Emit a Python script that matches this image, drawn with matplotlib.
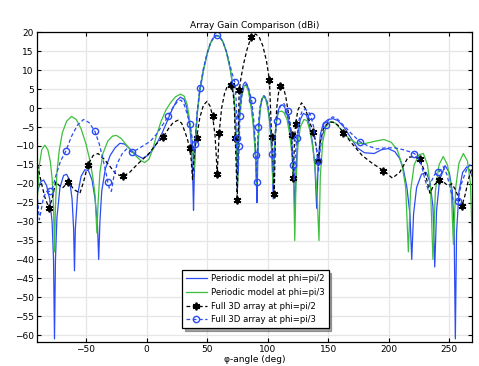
import matplotlib
matplotlib.use("Agg")
import matplotlib.pyplot as plt
import numpy as np

# ---------------- data ----------------
# Periodic model at phi=pi/2 (blue solid)
B_x = [-90, -87.5, -85, -82.5, -80, -78, -76.8, -76, -75.2, -74, -71.5, -68.5, -66, -63.5, -61.5, -60.2, -59.5,
       -58.8, -57, -54, -51, -48, -45, -42.5, -40.5, -39.5, -38.5, -37, -34, -30, -26, -22, -18, -13, -8, -3, 1,
       5, 9, 13, 17, 21, 25, 28, 31, 33, 35, 36.5, 37.5, 38.3, 38.8, 39.4, 40.5, 42, 44, 47, 50, 53, 56, 58, 60,
       63, 66, 69, 71, 72.5, 73.5, 74.3, 75, 75.7, 76.5, 78, 80, 81.5, 83, 85, 87, 88.5, 89.8, 90.6, 91.2, 91.8,
       92.8, 94, 95.5, 97, 98.5, 100, 101.5, 102.8, 103.8, 104.6, 105.4, 106.5, 108, 110, 112, 114, 116, 118, 120,
       121.5, 122.5, 123.5, 125, 127, 129.5, 132, 134.5, 137, 139, 140.5, 141.8, 143.5, 146, 150, 154, 158, 163,
       168, 174, 180, 188, 194, 199.5, 205, 209, 212, 215, 217.5, 219, 220.5, 223, 227, 231, 234, 236.5, 238,
       239.5, 242, 246.5, 250, 252.5, 254, 255, 256, 258, 261, 264.5, 267, 270]
B_y = [-22, -19.5, -19, -20.5, -24, -30, -40, -61, -40, -29, -21, -17.8, -17.5, -19, -24, -32, -43,
       -32, -23, -18, -16.3, -16.5, -19, -24, -31, -40, -30, -22, -16, -12.5, -10.5, -9.3, -9.5, -11, -12.5, -13.3, -12.5,
       -11, -9, -6.5, -3.5, -0.5, 2, 2.9, 2.3, 0.5, -3, -7.5, -13, -20, -27, -18, -8, -1, 4.5, 10, 14.3, 17.3, 18.9, 19.2, 19,
       17.6, 14.8, 10.5, 6.5, 2, -4, -12, -22, -10, -2, 3.5, 6.3, 6.9, 6.3, 3.8, -0.5, -5, -11, -18, -25, -15,
       -5, 0, 2.5, 3.1, 2.5, 0.5, -3, -8, -15, -24, -14, -6, -1.5, 0.5, 0.9, 0.3, -1.5, -5, -10,
       -17, -28, -16, -7, -3, -1.4, -1.8, -4.5, -9, -15, -26.5, -14, -7, -4, -3, -2.8, -3.3, -5,
       -7.5, -10.5, -11.8, -12, -11, -10.7, -11.5, -13.3, -16, -21, -28, -40, -28, -21, -17.5, -17, -19.5, -26, -42,
       -27, -19, -15.2, -17, -22, -32, -61, -33, -22, -17, -15.5, -16.5, -19]

# Periodic model at phi=pi/3 (green solid)
G_x = [-90, -88.5, -86.5, -84, -81.5, -79.5, -78, -76.8, -76, -75.2, -74, -72, -69.5, -66, -62, -58, -54, -50,
       -47, -44.5, -42.5, -41, -40, -38.5, -36, -32, -28, -25, -21, -16, -10, -5, -1.5, 2, 5, 8, 12, 16, 20, 24,
       28, 31, 33.5, 35.5, 37.5, 39.3, 40.5, 42, 44, 47, 50, 53, 56, 58, 60, 63, 66, 69, 71, 72.5, 73.5, 74.5,
       75.3, 76, 77, 78.5, 80.5, 82, 84, 86, 88, 89.8, 90.8, 91.6, 93, 94.5, 96.5, 98.5, 100.5, 102, 103.5, 104.4,
       105.3, 107, 109, 111.5, 113.5, 116, 118, 120, 121.5, 122.4, 123.4, 125, 127, 130, 132.5, 135, 137.5, 139.5,
       141, 142.4, 143.5, 145.5, 148, 152, 156, 161, 167, 173, 180, 188, 196, 202, 207, 211, 214, 216.2, 218,
       221, 225, 228.6, 232, 234.5, 236.5, 238.5, 241.5, 245, 248.5, 251.5, 253.4, 255.3, 258, 261.6, 265, 267.5,
       269, 270]
G_y = [-23, -15, -11, -9.8, -11, -14, -18.5, -26, -38, -26, -17, -11, -6.5, -3.5, -2.2, -3, -5.5, -9.5,
       -13.5, -18, -23, -33, -25, -17, -12, -8.7, -7.4, -7.2, -8, -10, -12.3, -13.8, -14.4, -13.5, -11, -7.5, -3.5, -0.5, 1.5, 3,
       3.7, 3.2, 1, -3, -8.5, -16, -9, -1, 4.5, 10, 14.3, 17.3, 18.9, 19.2, 19, 17.6, 14.8, 10.5, 6.5, 2, -4, -11,
       -20, -9, -2, 3, 5.8, 6.1, 4.6, 1, -4, -12, -20, -12, -3, 1.5, 3.2, 2.3, -0.5, -4.5, -12, -20,
       -12, -4, -1, -0.8, -1.2, -3, -6.5, -12, -20, -35, -20, -10, -5, -3, -3.3, -6, -11, -17,
       -24, -35, -18, -9, -5, -3.5, -4, -5.8, -8, -9.2, -9.4, -8.8, -8.3, -9, -11, -15, -21, -38, -22,
       -15, -12.3, -12, -15, -21, -40, -22, -15, -12.8, -15, -21, -36, -21, -14.5, -12, -14, -20,
       -36, -25]

# Full 3D array at phi=pi/2 (black dashed, stars)
K_x = [-90, -87, -84, -80.5, -78, -75, -72, -69, -64.5, -60, -55, -52, -48.5, -44, -40, -35, -30, -25, -19.5,
       -14, -8, -3, 2, 8, 13.7, 18, 22, 26, 29, 32, 34, 35.5, 37, 38, 39, 40, 41.3, 44, 47, 50, 52.5, 54.5, 56.5,
       57.5, 58.3, 59.2, 60, 62, 64.5, 67, 69.4, 71.5, 72.5, 73.3, 74.9, 76, 76.5, 78, 80, 83, 86.5, 90, 93, 96,
       99, 101.5, 103.3, 104.6, 105.5, 106.5, 107.5, 109, 110.2, 111.5, 113, 115, 117.5, 119.8, 121.2, 122.2,
       123.1, 125, 128, 131, 134, 137.7, 140, 142, 143.5, 146, 150, 154, 158, 162.5, 170, 178, 186, 195.5, 203,
       209, 216, 221, 225.5, 230, 234, 237, 241.7, 245, 249, 252, 255, 258, 260.3, 263, 266.5, 270]
K_y = [-15, -19.5, -23.5, -26.5, -24, -19.5, -20.5, -21, -19.5, -21.5, -22.5, -19.5, -15, -12.5, -12, -13.5, -15.5, -17.5, -18,
       -17, -15, -13.5, -12, -9.5, -7.7, -5.5, -3.8, -3.2, -4, -6.5, -8.5, -10.5, -14, -19, -14, -10.5, -8, -2.5, 0.8, 1.8, 0.5, -2, -7,
       -12, -17.5, -12, -6.5, 0, 4, 6, 6.2, 4, 0.5, -8, -24.4, -4, 4.7, 8, 11.5, 15.5, 18.9, 19.6, 18.8, 16.5,
       12.5, 7.4, -7.6, -15, -22.6, -6, 0, 4, 5.8, 6.2, 5.5, 3, -2, -7.2, -18.6, -8,
       -4.1, -0.5, 1.4, 0, -3, -6.3, -10, -14, -9, -5.5, -3.8, -3.7, -4.5, -6.5, -9.5, -12.5, -14.5, -16.5, -18.5,
       -17, -13, -12.8, -13.5, -17, -22.5, -20.5, -19, -19.5, -20.5, -20, -21.5, -24, -26, -23, -18, -14.7]
K_marks = [-80.5, -64.5, -48.5, -19.5, 13.7, 35.5, 41.3, 54.5, 58.3, 60, 69.4, 73.3, 74.9, 76.5, 86.5, 101.5,
           103.3, 105.5, 110.2, 119.8, 121.2, 123.1, 137.7, 142, 162.5, 195.5, 225.5, 241.7, 260.3]

# Full 3D array at phi=pi/3 (blue dashed, circles)
C_x = [-90, -88.5, -87, -85, -82.5, -80, -77.5, -75, -71, -66.7, -62, -57, -52, -47.5, -42.7, -39, -36, -33.5, -32,
       -30.5, -29, -27, -24, -20, -16.5, -12.4, -8, -3, 3, 8, 12.5, 17.9, 22, 26, 28.5, 31, 33.5, 35.8, 37.5, 38.8,
       39.9, 41.5, 44, 47, 50, 53, 56, 57.8, 60, 63, 66, 69, 71, 73, 74.2, 74.9, 75.8, 76.5, 77.1, 78.5, 80.5, 82.5,
       84.5, 86.8, 88.5, 89.6, 90.3, 90.9, 91.5, 92.2, 93.5, 95.5, 97, 99, 101, 102.5, 103.8, 104.6, 105.5, 107.4,
       109, 111.5, 113.5, 116.5, 118.5, 120, 121.2, 121.9, 122.7, 124, 126, 128.5, 131, 133.5, 135.8, 138, 140,
       141.3, 142, 143, 145, 147.9, 151, 154, 158, 164, 170, 176.3, 183, 190, 197, 205, 212, 217, 221.2, 224, 227,
       230, 232.5, 235, 238, 241, 245, 248, 251, 253, 255, 257, 260, 264, 267, 270]
C_y = [-24, -29.5, -27, -23.5, -22, -22, -21, -18, -14, -11.4, -7.5, -4.5, -3, -3.8, -6.1, -9.5, -13.5, -17, -19.5,
       -21.5, -22, -18, -14.5, -12, -10.8, -11.6, -11, -10, -8.8, -7, -4.8, -2.2, 0.3, 1.9, 2.1, 1, -1.5, -4.3, -7.5, -12.5,
       -9.4, -2, 5.2, 10.5, 14.5, 17.5, 19, 19.2, 19, 17.6, 14.9, 11.2, 8.8, 6.9, 1, -8, -17, -10, -2, 3, 5.8, 6.3,
       5, 2.1, -3, -8, -12.5, -19.5, -12, -5, 0, 2.8, 3.3, 2.5, -0.5, -5, -12, -17, -10, -3.5,
       -0.5, 1, 1.2, -0.8, -4, -9, -15, -19, -13, -8, -3, -0.8, -0.3, -0.8, -2.1, -5, -10,
       -14, -17, -12, -7.5, -4.5, -2.8, -2.3, -3, -5, -7, -8.9, -10, -10.8, -10.5, -10.5, -11, -11.5, -12, -13, -15,
       -19, -21.5, -19.5, -17.5, -17, -15.5, -17.5, -21.5, -24, -24.2, -24.5, -20, -16.5, -15, -16]
C_marks = [-80, -66.7, -42.7, -32, -12.4, 17.9, 35.8, 39.9, 44, 57.8, 73, 74.9, 76.5, 77.1, 86.8, 90.3, 90.9,
           92.2, 103.8, 107.4, 116.5, 121.2, 124, 135.8, 141.3, 147.9, 176.3, 221.2, 241, 257]

x_ticks = [-50, 0, 50, 100, 150, 200, 250]
y_ticks = list(range(-60, 25, 5))

labels = ["Periodic model at phi=pi/2", "Periodic model at phi=pi/3",
          "Full 3D array at phi=pi/2", "Full 3D array at phi=pi/3"]
title = "Array Gain Comparison (dBi)"
xlabel = "φ-angle (deg)"


def mark_idx(xs, marks):
    xs = np.asarray(xs)
    return [int(np.argmin(np.abs(xs - m))) for m in marks]


plt.rcParams['font.family'] = ['DejaVu Sans']
fig = plt.figure(figsize=(4.79, 3.66), dpi=100)
ax = fig.add_axes([0.0766, 0.0648, 0.9094, 0.8486])

blue = '#2a4cf5'
green = '#3dbf3d'
ax.plot(B_x, B_y, color=blue, lw=0.9, label=labels[0])
ax.plot(G_x, G_y, color=green, lw=0.9, label=labels[1])
ax.plot(K_x, K_y, color='black', lw=0.9, ls=(0, (3, 2)), marker=(6, 2, 0), ms=5.5, mew=1.3,
        markevery=mark_idx(K_x, K_marks), label=labels[2])
ax.plot(C_x, C_y, color=blue, lw=0.9, ls=(0, (3, 2)), marker='o', ms=4.5, mfc='none', mew=1.0,
        markevery=mark_idx(C_x, C_marks), label=labels[3])

ax.set_xlim(-90.7, 269)
ax.set_ylim(-61.9, 20.2)
ax.set_xticks(x_ticks)
ax.set_yticks(y_ticks)
ax.grid(True, color='#e6e6e6', lw=0.9)
ax.set_axisbelow(True)
ax.tick_params(direction='in', top=True, right=True, length=3, width=0.8, labelsize=6.5, pad=2)
for s in ax.spines.values():
    s.set_linewidth(0.9)
ax.set_title(title, fontsize=6.5, pad=3)
ax.set_xlabel(xlabel, fontsize=6.5, labelpad=1)

leg = ax.legend(loc='lower center', bbox_to_anchor=(0.502, 0.031), fontsize=6.1, frameon=True,
                fancybox=False, shadow=True, edgecolor='black', framealpha=1, handlelength=2.4,
                labelspacing=0.55, borderpad=0.5, handletextpad=0.5)
leg.get_frame().set_linewidth(0.9)

fig.savefig('out.png', dpi=100)
